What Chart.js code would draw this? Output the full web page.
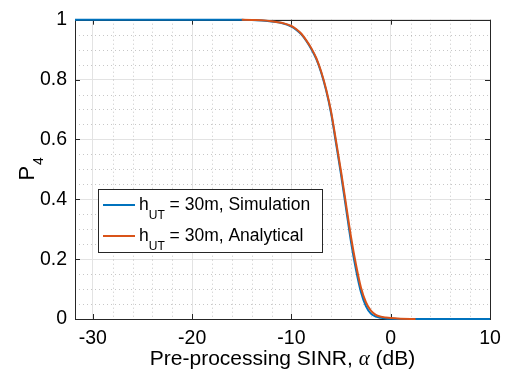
<!DOCTYPE html>
<html>
<head>
<meta charset="utf-8">
<script src="https://cdn.jsdelivr.net/npm/chart.js@4"></script>
<style>
  html, body { margin: 0; padding: 0; background: #fff; }
  #wrap { width: 512px; height: 373px; }
</style>
</head>
<body>
<div id="wrap"><canvas id="p4Chart" width="512" height="373"></canvas></div>
<script>
// SINR (dB) and P4 values
const simX = [-31.8, -25, -20, -16, -15, -14, -13, -12, -11, -10, -9.5, -9, -8.5, -8, -7.5, -7, -6.5, -6, -5.5, -5, -4.5, -4, -3.5, -3, -2.5, -2, -1.5, -1, -0.5, 0, 1, 2, 4, 6, 8, 10];
const simY = [1, 1, 1, 1, 0.9995, 0.999, 0.997, 0.994, 0.989, 0.977, 0.966, 0.951, 0.929, 0.902, 0.869, 0.823, 0.763, 0.686, 0.585, 0.482, 0.37, 0.258, 0.165, 0.09, 0.043, 0.018, 0.008, 0.004, 0.002, 0.001, 0, 0, 0, 0, 0, 0];
const anaX = [-15, -14, -13, -12, -11, -10, -9.5, -9, -8.5, -8, -7.5, -7, -6.5, -6, -5.5, -5, -4.5, -4, -3.5, -3, -2.5, -2, -1.5, -1, -0.5, 0, 1, 2.5];
const anaY = [1, 0.999, 0.998, 0.995, 0.99, 0.979, 0.968, 0.953, 0.931, 0.905, 0.872, 0.826, 0.767, 0.692, 0.593, 0.492, 0.383, 0.274, 0.182, 0.105, 0.056, 0.028, 0.014, 0.008, 0.005, 0.003, 0.001, 0];
const xTicks = [-30, -20, -10, 0, 10];
const yTicks = [0, 0.2, 0.4, 0.6, 0.8, 1];
const xMinor = [-30, -28, -26, -24, -22, -20, -18, -16, -14, -12, -10, -8, -6, -4, -2, 0, 2, 4, 6, 8, 10];
const yMinor = [0.05, 0.1, 0.15, 0.25, 0.3, 0.35, 0.45, 0.5, 0.55, 0.65, 0.7, 0.75, 0.85, 0.9, 0.95];
const seriesNames = ['Simulation', 'Analytical'];

const SANS = '"Liberation Sans", Arial, Helvetica, sans-serif';
const BLUE = '#0072BD';
const ORANGE = '#D95319';
const AXIS = '#262626';

const toPoints = (xs, ys) => xs.map((x, i) => ({ x: x, y: ys[i] }));

// minor dotted grid under the data, box + inward ticks
const framePlugin = {
  id: 'frame',
  beforeDatasetsDraw(chart) {
    const { ctx, chartArea: a, scales: { x, y } } = chart;
    ctx.save();
    ctx.strokeStyle = 'rgba(0,0,0,0.22)';
    ctx.lineWidth = 1;
    ctx.setLineDash([1, 3]);
    xMinor.forEach(v => {
      if (xTicks.includes(v)) return;
      const px = Math.round(x.getPixelForValue(v)) + 0.5;
      ctx.beginPath(); ctx.moveTo(px, a.top); ctx.lineTo(px, a.bottom); ctx.stroke();
    });
    yMinor.forEach(v => {
      const py = Math.round(y.getPixelForValue(v)) + 0.5;
      ctx.beginPath(); ctx.moveTo(a.left, py); ctx.lineTo(a.right, py); ctx.stroke();
    });
    ctx.setLineDash([]);
    ctx.strokeStyle = AXIS;
    ctx.lineWidth = 1;
    ctx.strokeRect(Math.round(a.left) + 0.5, Math.round(a.top) + 0.5,
      Math.round(a.right - a.left), Math.round(a.bottom - a.top));
    const tl = 5;
    xTicks.forEach(v => {
      const px = Math.round(x.getPixelForValue(v)) + 0.5;
      ctx.beginPath();
      ctx.moveTo(px, a.bottom); ctx.lineTo(px, a.bottom - tl);
      ctx.moveTo(px, a.top); ctx.lineTo(px, a.top + tl);
      ctx.stroke();
    });
    yTicks.forEach(v => {
      const py = Math.round(y.getPixelForValue(v)) + 0.5;
      ctx.beginPath();
      ctx.moveTo(a.left, py); ctx.lineTo(a.left + tl, py);
      ctx.moveTo(a.right, py); ctx.lineTo(a.right - tl, py);
      ctx.stroke();
    });
    ctx.restore();
  },
  afterDraw(chart) {
    const { ctx, chartArea: a } = chart;
    ctx.save();
    ctx.fillStyle = '#000';
    ctx.textBaseline = 'alphabetic';

    // x axis title with italic alpha
    const p1 = 'Pre-processing SINR, ', p2 = '\u03B1', p3 = ' (dB)';
    const fMain = '21px ' + SANS, fAlpha = 'italic 21px "Liberation Serif", "DejaVu Serif", serif';
    ctx.font = fMain; const w1 = ctx.measureText(p1).width, w3 = ctx.measureText(p3).width;
    ctx.font = fAlpha; const w2 = ctx.measureText(p2).width;
    let sx = (a.left + a.right) / 2 - (w1 + w2 + w3) / 2;
    const by = 365;
    ctx.font = fMain; ctx.fillText(p1, sx, by); sx += w1;
    ctx.font = fAlpha; ctx.fillText(p2, sx, by); sx += w2;
    ctx.font = fMain; ctx.fillText(p3, sx, by);

    // y axis title P_4
    ctx.save();
    ctx.translate(33.5, (a.top + a.bottom) / 2);
    ctx.rotate(-Math.PI / 2);
    ctx.font = '22px ' + SANS; const wp = ctx.measureText('P').width;
    ctx.font = '14px ' + SANS; const w4 = ctx.measureText('4').width;
    const st = -(wp + w4) / 2;
    ctx.font = '22px ' + SANS; ctx.fillText('P', st, 0);
    ctx.font = '14px ' + SANS; ctx.fillText('4', st + wp + 1, 9.5);
    ctx.restore();

    // legend
    ctx.fillStyle = '#fff';
    ctx.fillRect(98.5, 189.5, 224, 63);
    ctx.strokeStyle = AXIS; ctx.lineWidth = 1;
    ctx.strokeRect(98.5, 189.5, 224, 63);
    const rows = [{ c: BLUE, y: 205 }, { c: ORANGE, y: 236 }];
    rows.forEach((r, i) => {
      ctx.strokeStyle = r.c; ctx.lineWidth = 2;
      ctx.beginPath(); ctx.moveTo(103, r.y); ctx.lineTo(135, r.y); ctx.stroke();
      ctx.fillStyle = '#000';
      let tx = 139;
      const base = r.y + 5;
      ctx.font = '17.5px ' + SANS; ctx.fillText('h', tx, base); tx += ctx.measureText('h').width;
      ctx.font = '12px ' + SANS; ctx.fillText('UT', tx, base + 9); tx += ctx.measureText('UT').width;
      ctx.font = '17.5px ' + SANS; ctx.fillText(' = 30m, ' + seriesNames[i], tx, base);
    });
    ctx.restore();
  }
};

new Chart(document.getElementById('p4Chart').getContext('2d'), {
  type: 'scatter',
  data: {
    datasets: [
      {
        label: 'h_UT = 30m, ' + seriesNames[0],
        data: toPoints(simX, simY),
        showLine: true,
        borderColor: BLUE,
        backgroundColor: BLUE,
        borderWidth: 2,
        pointRadius: 0,
        cubicInterpolationMode: 'monotone',
        clip: false,
        order: 1
      },
      {
        label: 'h_UT = 30m, ' + seriesNames[1],
        data: toPoints(anaX, anaY),
        showLine: true,
        borderColor: ORANGE,
        backgroundColor: ORANGE,
        borderWidth: 2,
        pointRadius: 0,
        cubicInterpolationMode: 'monotone',
        clip: false,
        order: 0
      }
    ]
  },
  options: {
    responsive: false,
    animation: false,
    events: [],
    layout: { padding: { left: 0, right: 22, top: 7, bottom: 0 } },
    plugins: { legend: { display: false }, tooltip: { enabled: false } },
    scales: {
      x: {
        type: 'linear',
        min: -31.8,
        max: 10,
        afterBuildTicks: s => { s.ticks = xTicks.map(v => ({ value: v })); },
        afterFit: s => { s.height = 54; },
        ticks: {
          font: { family: SANS, size: 19.5 },
          color: '#000',
          padding: 8,
          maxRotation: 0,
          callback: v => String(v)
        },
        grid: { color: '#e3e3e3', lineWidth: 1, drawTicks: false },
        border: { display: false }
      },
      y: {
        type: 'linear',
        min: 0,
        max: 1,
        afterBuildTicks: s => { s.ticks = yTicks.map(v => ({ value: v })); },
        afterFit: s => { s.width = 75; },
        ticks: {
          font: { family: SANS, size: 19.5 },
          color: '#000',
          padding: 8,
          callback: v => String(Math.round(v * 10) / 10)
        },
        grid: { color: '#e3e3e3', lineWidth: 1, drawTicks: false },
        border: { display: false }
      }
    }
  },
  plugins: [framePlugin]
});
</script>
</body>
</html>
